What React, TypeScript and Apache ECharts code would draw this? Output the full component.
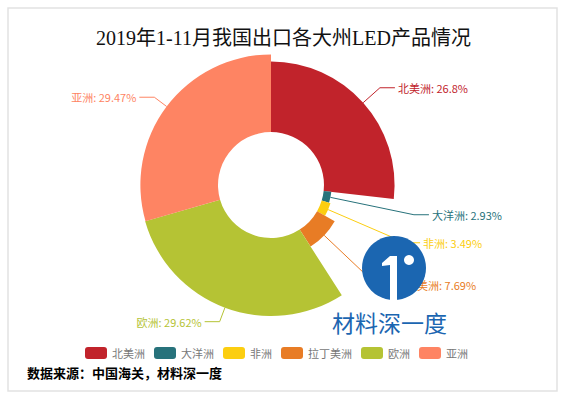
import React, { useEffect, useRef } from "react";
import * as echarts from "echarts";

const title = "2019年1-11月我国出口各大州LED产品情况";
const categories = ["北美洲", "大洋洲", "非洲", "拉丁美洲", "欧洲", "亚洲"];
const shares = [26.8, 2.93, 3.49, 7.69, 29.62, 29.47];
const colors = ["#C1232B", "#27727B", "#FCCE10", "#E87C25", "#B5C334", "#FE8463"];
const sourceNote = "数据来源：中国海关，材料深一度";
const brandText = "材料深一度";

const CJK = '"Noto Sans CJK SC", "Microsoft YaHei", sans-serif';

export default function App() {
  const ref = useRef<HTMLDivElement>(null);
  useEffect(() => {
    if (!ref.current) return;
    const chart = echarts.init(ref.current, undefined, { renderer: "svg" });
    const brandBlue = "#1b66b1";
    chart.setOption({
      animation: false,
      backgroundColor: "#ffffff",
      color: colors,
      title: {
        text: title,
        left: "center",
        top: 28,
        padding: 0,
        textStyle: {
          fontSize: 20,
          fontWeight: "normal",
          color: "#111",
          fontFamily: '"Liberation Serif", "Noto Sans CJK SC", serif',
        },
      },
      legend: {
        data: categories,
        left: 85,
        top: 347,
        padding: 0,
        icon: "roundRect",
        itemWidth: 22,
        itemHeight: 12,
        itemGap: 9,
        textStyle: { fontSize: 11, color: "#777", fontFamily: CJK },
      },
      graphic: [
        {
          type: "rect",
          z: -10,
          shape: { x: 8, y: 8, width: 549, height: 383 },
          style: { fill: "#fff", stroke: "#e2e2e2", lineWidth: 1.5 },
        },
        {
          type: "text",
          left: 27,
          top: 366,
          style: {
            text: sourceNote,
            fill: "#000",
            font: "bold 13px " + CJK,
          },
        },
        {
          type: "circle",
          z: 100,
          zlevel: 1,
          shape: { cx: 394, cy: 268, r: 32 },
          style: { fill: brandBlue },
        },
        {
          type: "polygon",
          z: 101,
          zlevel: 1,
          shape: {
            points: [
              [382, 263],
              [390, 256],
              [397, 256],
              [397, 302],
              [390, 302],
              [390, 265],
              [382, 266],
            ],
          },
          style: { fill: "#fff" },
        },
        {
          type: "circle",
          z: 101,
          zlevel: 1,
          shape: { cx: 409, cy: 260, r: 5 },
          style: { fill: "#fff" },
        },
        {
          type: "text",
          left: 332,
          top: 310,
          z: 100,
          zlevel: 1,
          style: {
            text: brandText,
            fill: brandBlue,
            font: "23px " + CJK,
          },
        },
      ],
      series: [
        {
          type: "pie",
          roseType: "radius",
          center: [271, 185],
          radius: [53, 131],
          startAngle: 90,
          clockwise: true,
          data: categories.map((name, i) => ({
            name,
            value: shares[i],
            label: { color: colors[i] },
          })),
          label: {
            formatter: "{b}: {c}%",
            fontSize: 11,
            fontFamily: CJK,
            distanceToLabelLine: 3,
          },
          labelLine: { length: 15, length2: 15, lineStyle: { width: 1 } },
        },
      ],
    });
    return () => chart.dispose();
  }, []);
  return (
    <div
      ref={ref}
      style={{ position: "fixed", left: 0, top: 0, width: 567, height: 398 }}
    />
  );
}
